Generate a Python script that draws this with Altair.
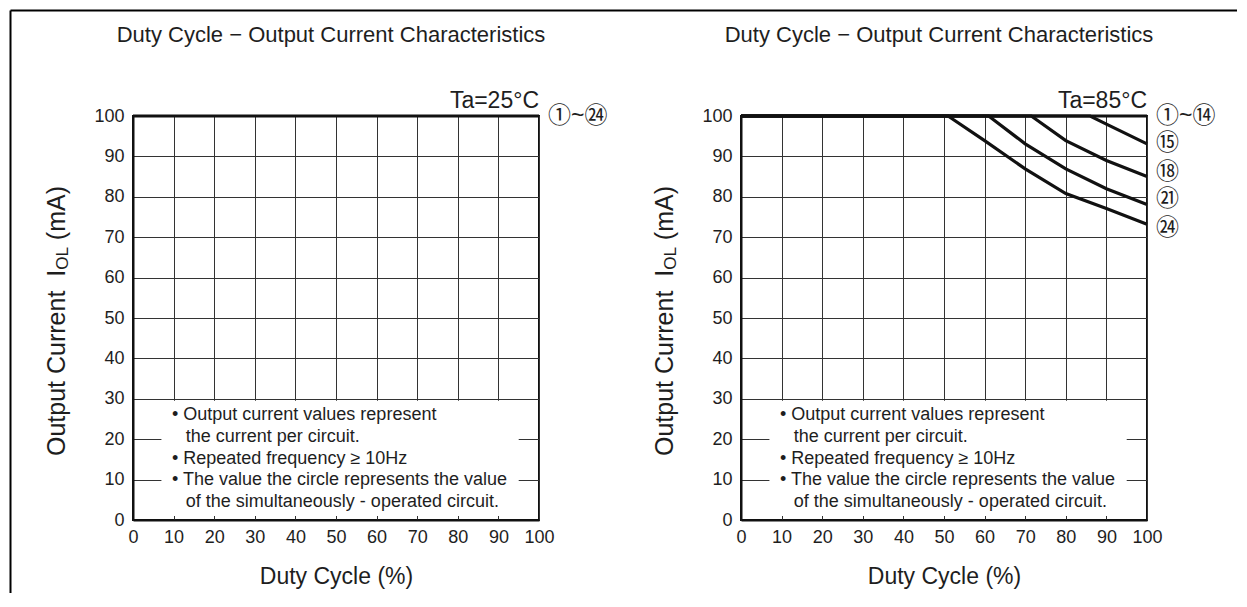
import altair as alt
import pandas as pd

FONT = "Liberation Sans"
CIRC_FONT = "Liberation Sans, Noto Sans CJK JP"
INK = "#1e1e1e"
NB = "\u00a0"

# ---------------- data ----------------
duty_ticks = [0, 10, 20, 30, 40, 50, 60, 70, 80, 90, 100]
current_ticks = [0, 10, 20, 30, 40, 50, 60, 70, 80, 90, 100]

# Ta = 25 °C : circuits 1..24 all at 100 mA
left_series = ["①~㉔"]
left_duty = [[0, 100]]
left_current = [[100, 100]]

# Ta = 85 °C
right_series = ["①~⑭", "⑮", "⑱", "㉑", "㉔"]
right_duty = [
    [0, 100],
    [0, 86, 90, 100],
    [0, 71.5, 80, 90, 100],
    [0, 61, 70, 80, 90, 100],
    [0, 51, 60, 70, 80, 90, 100],
]
right_current = [
    [100, 100],
    [100, 100, 98, 93.1],
    [100, 100, 93.9, 89, 85],
    [100, 100, 93.1, 86.9, 82, 78.1],
    [100, 100, 93.9, 86.9, 80.8, 77.1, 73.2],
]
left_label_current = [100]
right_label_current = [100, 93.2, 86.2, 79.5, 72.4]

notes = [
    "• Output current values represent",
    "the current per circuit.",
    "• Repeated frequency ≥ 10Hz",
    "• The value the circle represents the value",
    "of the simultaneously - operated circuit.",
]
note_indented = [False, True, False, False, True]

title_text = "Duty Cycle − Output Current Characteristics"
x_title = "Duty Cycle (%)"
y_title_parts = ["Output Current" + NB + NB + "I", "OL", "(mA)"]

# note box extent (data units)
box = {"duty": [7], "duty2": [95], "current": [1], "current2": [29.5]}

W, H = 406, 404


def series_frame(names, duties, currents):
    rows = []
    for n, ds, cs in zip(names, duties, currents):
        for d, c in zip(ds, cs):
            rows.append({"series": n, "duty": d, "current": c})
    return pd.DataFrame(rows)


def panel(names, duties, currents, label_currents, ta_text, with_border):
    xs = alt.Scale(domain=[0, 100], nice=False)
    ys = alt.Scale(domain=[0, 100], nice=False)
    X = alt.X("duty:Q", scale=xs,
              axis=alt.Axis(values=duty_ticks, title=x_title, titlePadding=19,
                            labelPadding=8, format="d"))
    Y = alt.Y("current:Q", scale=ys,
              axis=alt.Axis(values=current_ticks, title=None, labelPadding=9, format="d"))

    box_layer = alt.Chart(pd.DataFrame(box)).mark_rect(color="white", opacity=1).encode(
        x=X, x2="duty2:Q", y=Y, y2="current2:Q")

    lines = alt.Chart(series_frame(names, duties, currents)).mark_line(
        color="#111", strokeWidth=3.2).encode(
        x=X, y=Y, detail="series:N", order="duty:Q")

    step = 5.4
    note_df = pd.DataFrame({
        "text": notes,
        "duty": [13.0 if ind else 9.6 for ind in note_indented],
        "current": [26.0 - step * i for i in range(len(notes))],
    })
    note_layer = alt.Chart(note_df).mark_text(
        align="left", baseline="middle", fontSize=18, font=FONT, color=INK).encode(
        x=X, y=Y, text="text:N")

    one = pd.DataFrame({"a": [0]})
    ta_layer = alt.Chart(one).mark_text(
        text=ta_text, align="right", baseline="alphabetic", dy=-8,
        fontSize=23, font=FONT, color=INK).encode(
        x=alt.datum(100), y=alt.datum(100))

    title_layer = alt.Chart(one).mark_text(
        text=title_text, align="center", baseline="alphabetic",
        fontSize=22, font=FONT, color=INK).encode(
        x=alt.value(W / 2 - 5), y=alt.value(-74))

    lab_df = pd.DataFrame({"label": names, "duty": [100] * len(names),
                           "current": label_currents})
    lab_layer = alt.Chart(lab_df).mark_text(
        align="left", baseline="middle", dx=9, fontSize=23, font=CIRC_FONT,
        color=INK).encode(x=X, y=Y, text="label:N")

    # y axis title with subscript
    f_main, f_sub = 25, 17
    w1 = 7.448 * f_main
    w2 = 1.334 * f_sub
    gap = 0.278 * f_main
    total = w1 + w2 + gap + 2.166 * f_main
    yc = 205
    y1 = yc + total / 2
    y2 = y1 - w1
    y3 = y2 - w2 - gap
    ytx = -76
    yt = []
    for txt, yy, fs, xx in [(y_title_parts[0], y1, f_main, ytx),
                            (y_title_parts[1], y2, f_sub, ytx + 6),
                            (y_title_parts[2], y3, f_main, ytx)]:
        yt.append(alt.Chart(one).mark_text(
            text=txt, angle=270, align="left", baseline="middle",
            fontSize=fs, font=FONT, color=INK).encode(
            x=alt.value(xx), y=alt.value(yy)))

    layers = [box_layer, lines, note_layer, ta_layer, title_layer, lab_layer] + yt
    if with_border:
        layers.append(alt.Chart(one).mark_rule(color="#000", strokeWidth=2).encode(
            x=alt.value(-122.5), y=alt.value(-105.5), y2=alt.value(477)))
        layers.append(alt.Chart(one).mark_rule(color="#000", strokeWidth=2).encode(
            x=alt.value(-122.5), x2=alt.value(1104), y=alt.value(-105.5)))

    return alt.layer(*layers).properties(width=W, height=H)


left = panel(left_series, left_duty, left_current, left_label_current, "Ta=25°C", True)
right = panel(right_series, right_duty, right_current, right_label_current, "Ta=85°C", False)

chart = alt.hconcat(left, right, spacing=202, bounds="flush").properties(
    padding=0
).configure(font=FONT).configure_view(
    stroke="#111", strokeWidth=2
).configure_axis(
    grid=True, gridColor="#333", gridWidth=1, gridOpacity=1,
    domainColor="#111", domainWidth=2, ticks=False, tickSize=0,
    labelOverlap=False, labelFlush=False,
    labelFont=FONT, labelFontSize=18, labelColor=INK,
    titleFont=FONT, titleFontSize=23, titleFontWeight="normal", titleColor=INK,
)

chart.save("out.html", embed_options={"renderer": "svg", "actions": False})
